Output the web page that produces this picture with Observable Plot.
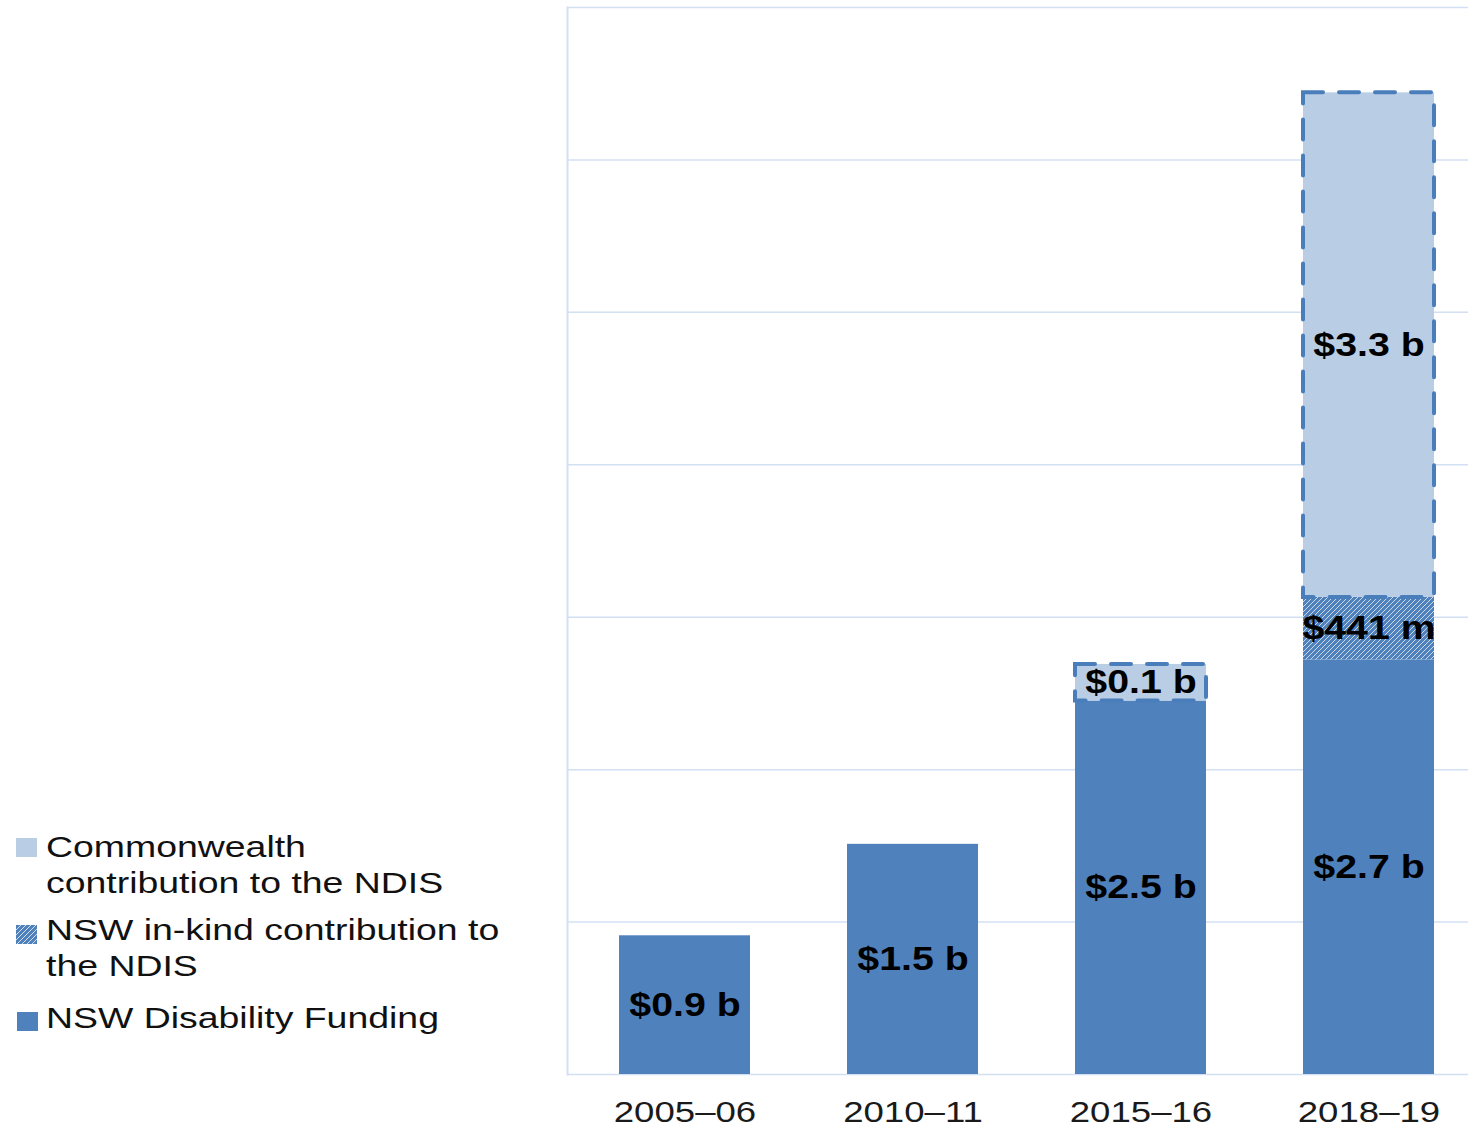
<!DOCTYPE html>
<html>
<head>
<meta charset="utf-8">
<script src="https://cdn.jsdelivr.net/npm/d3@7"></script>
<script src="https://cdn.jsdelivr.net/npm/@observablehq/plot@0.6"></script>
<style>
  html, body { margin: 0; padding: 0; background: #fff; }
  #wrap { position: relative; width: 1468px; height: 1127px; overflow: hidden; font-family: "Liberation Sans", Arial, sans-serif; }
  #chart { position: absolute; left: 0; top: 0; }
  .lg-sw { position: absolute; width: 21px; height: 19px; }
  .lg-tx { position: absolute; left: 46px; font-size: 29px; line-height: 36px; color: #111; white-space: nowrap;
           transform: scaleX(1.29); transform-origin: 0 0; }
</style>
</head>
<body>
<div id="wrap">
  <div id="chart"></div>
  <div class="lg-sw" style="left:16px; top:838px; background:#B9CDE5;"></div>
  <div class="lg-tx" style="top:829px;">Commonwealth<br>contribution to the NDIS</div>
  <svg class="lg-sw" style="left:16px; top:925px;" width="21" height="19">
    <defs>
      <pattern id="hatchLg" patternUnits="userSpaceOnUse" width="5" height="5">
        <rect width="5" height="5" fill="#4F81BD"></rect>
        <path d="M-1,1 l2,-2 M0,5 l5,-5 M4,6 l2,-2" stroke="#fff" stroke-opacity="0.75" stroke-width="1"></path>
      </pattern>
    </defs>
    <rect width="21" height="19" fill="url(#hatchLg)"></rect>
  </svg>
  <div class="lg-tx" style="top:912px;">NSW in-kind contribution to<br>the NDIS</div>
  <div class="lg-sw" style="left:17px; top:1012px; background:#4F81BD;"></div>
  <div class="lg-tx" style="top:1000px;">NSW Disability Funding</div>
</div>
<script>
// Data (values in $ billions)
const years = ["2005–06", "2010–11", "2015–16", "2018–19"];
const seriesNames = ["NSW Disability Funding", "NSW in-kind contribution to the NDIS", "Commonwealth contribution to the NDIS"];
const disabilityFunding = [0.91, 1.51, 2.45, 2.72];
const inKindContribution = [0, 0, 0, 0.41];
const commonwealthContribution = [0, 0, 0.24, 3.31];
const disabilityLabels = ["$0.9 b", "$1.5 b", "$2.5 b", "$2.7 b"];
const inKindLabels = ["", "", "", "$441 m"];
const commonwealthLabels = ["", "", "$0.1 b", "$3.3 b"];
const gridValues = [0, 1, 2, 3, 4, 5, 6, 7];

const rows = [];
years.forEach((year, i) => {
  rows.push({year, series: seriesNames[0], value: disabilityFunding[i], label: disabilityLabels[i]});
  rows.push({year, series: seriesNames[1], value: inKindContribution[i], label: inKindLabels[i]});
  rows.push({year, series: seriesNames[2], value: commonwealthContribution[i], label: commonwealthLabels[i]});
});

const plot = Plot.plot({
  width: 1468,
  height: 1127,
  marginLeft: 567,
  marginRight: 0,
  marginTop: 7,
  marginBottom: 53,
  style: {fontFamily: "'Liberation Sans', Arial, sans-serif", background: "transparent", overflow: "visible"},
  x: {domain: years, range: [520, 1532], padding: 0.427, label: null},
  y: {domain: [0, 7], axis: null},
  color: {domain: seriesNames, range: ["#4F81BD", "url(#hatch)", "#B9CDE5"]},
  marks: [
    Plot.ruleY(gridValues, {stroke: "#D3E0F3", strokeWidth: 1.5}),
    Plot.frame({anchor: "left", stroke: "#D3E0F3", strokeWidth: 2}),
    Plot.barY(rows, {x: "year", y: "value", z: "series", fill: "series"}),
    Plot.barY(rows, {x: "year", y: "value", z: "series", fill: "none", stroke: "#4A7EBB", strokeWidth: 4,
      strokeDasharray: "20,16", strokeLinecap: "round",
      strokeOpacity: d => d.series === seriesNames[2] ? 1 : 0}),
    Plot.text(rows, Plot.stackY({x: "year", y: "value", z: "series", text: "label",
      fill: "#000", fontSize: 33, fontWeight: "bold"})),
    Plot.axisX({tickSize: 0, tickPadding: 26, fontSize: 30, fill: "#1a1a1a", label: null})
  ]
});

d3.select(plot).insert("defs", ":first-child").html(`
  <pattern id="hatch" patternUnits="userSpaceOnUse" width="5" height="5">
    <rect width="5" height="5" fill="#4F81BD"></rect>
    <path d="M-1,1 l2,-2 M0,5 l5,-5 M4,6 l2,-2" stroke="#fff" stroke-opacity="0.7" stroke-width="1"></path>
  </pattern>`);

// Horizontally stretch text glyphs about their anchor, as in the reference
function stretch(selection, s) {
  selection.each(function () {
    const x = parseFloat(this.getAttribute("x") || 0);
    const t = this.getAttribute("transform") || "";
    this.setAttribute("transform", `${t} translate(${x},0) scale(${s},1) translate(${-x},0)`);
  });
}
stretch(d3.select(plot).selectAll('g[aria-label="text"] text'), 1.19);
stretch(d3.select(plot).selectAll('g[aria-label="x-axis tick label"] text'), 1.22);

document.getElementById("chart").appendChild(plot);
</script>
</body>
</html>
